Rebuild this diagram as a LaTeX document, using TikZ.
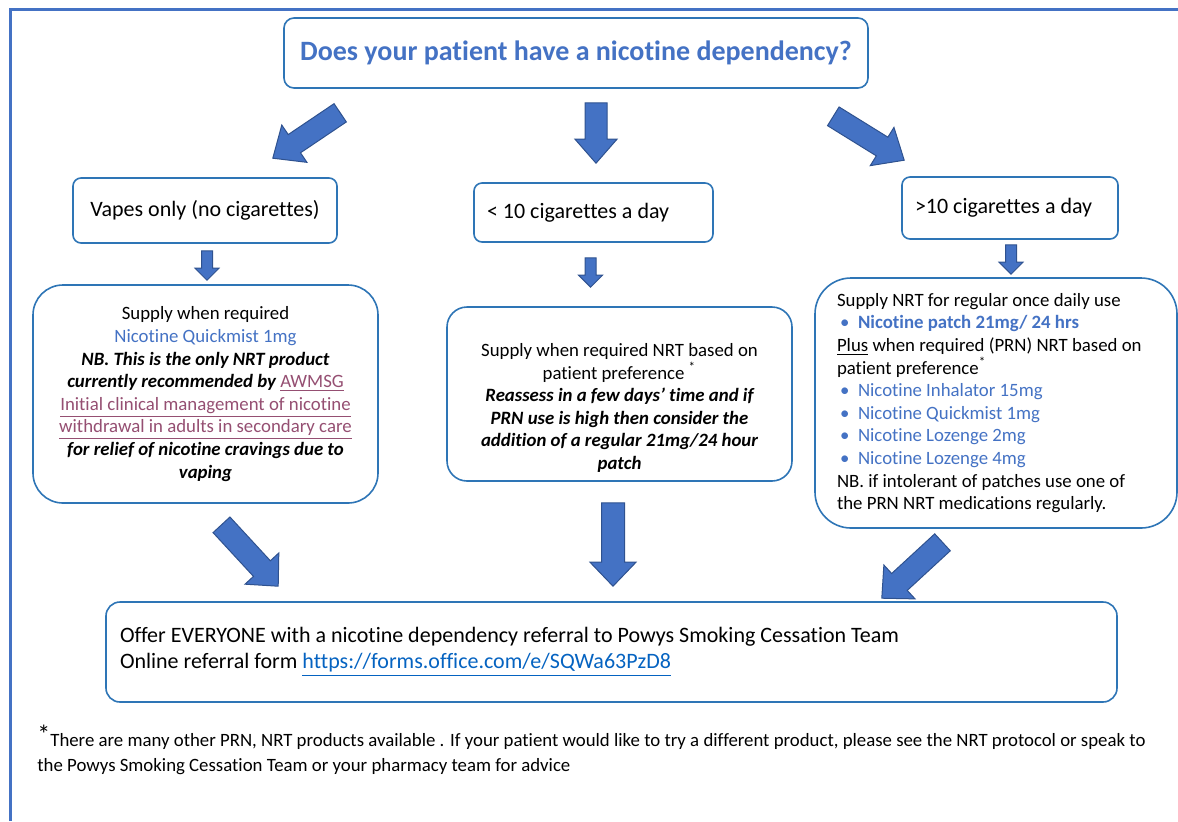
\documentclass[tikz,border=0pt]{standalone}
\usepackage{fontspec}
\setmainfont{Carlito}[Ligatures={TeX,NoCommon}]
\usepackage{tikz}
\usetikzlibrary{calc}
\definecolor{B}{RGB}{68, 114, 196}
\definecolor{L}{RGB}{46, 117, 182}
\definecolor{D}{RGB}{47, 82, 143}
\definecolor{P}{RGB}{149, 79, 114}
\definecolor{U}{RGB}{5, 99, 193}

%Flecha gruesa: inicio, punta, medio ancho, medio ancho cabeza, largo cabeza
\newcommand{\fatarrow}[5]{%
	\coordinate (hb) at ($(#2)!#5!(#1)$);
	\filldraw[arrowfill] ($(#1)!#3!90:(#2)$) -- ($(hb)!#3!90:(#2)$) -- ($(hb)!#4!90:(#2)$) -- (#2)
		-- ($(hb)!#4!-90:(#2)$) -- ($(hb)!#3!-90:(#2)$) -- ($(#1)!#3!-90:(#2)$) -- cycle;
}
\newcommand{\bul}[1]{\textcolor{B}{\hspace*{1.5pt}\makebox[9pt][l]{•}#1}}
\newcommand{\bodyfont}{\fontsize{9.4}{11.3}\selectfont}

\tikzset{
	box/.style={draw=L, line width=0.8pt, rounded corners=4pt, fill=white},
	bigbox/.style={draw=L, line width=0.8pt, fill=white, font=\bodyfont},
	arrowfill/.style={fill=B, draw=D, line width=0.5pt},
}

\begin{document}
\begin{tikzpicture}[x=0.5pt, y=-0.5pt]
	\useasboundingbox (0,0) rectangle (1178,821);
	\draw[B, line width=1.5pt] (10,821) -- (10,9) -- (1178,9);

	%Pregunta
	\node[box, rounded corners=5pt, minimum width=292pt, minimum height=35pt, text=B,
		font=\fontsize{14}{16}\selectfont\bfseries] (question) at (576,53)
		{Does your patient have a nicotine dependency?};

	%Tres casos
	\node[box, minimum width=132pt, minimum height=32.5pt, font=\fontsize{11}{13}\selectfont] (vapes) at (205,210.5)
		{Vapes only (no cigarettes)};
	\node[box, minimum height=29.5pt, inner xsep=6.5pt, text width=106.5pt, align=flush left,
		font=\fontsize{11}{13}\selectfont] (fewcig) at (593.5,212.5) {< 10 cigarettes a day};
	\node[box, minimum height=31pt, inner xsep=6.5pt, text width=95pt, align=flush left,
		font=\fontsize{11}{13}\selectfont] (manycig) at (1010,208) {>10 cigarettes a day};

	%Caja izquierda
	\node[bigbox, rounded corners=15pt, minimum width=172.5pt, minimum height=109pt, align=center] (vapesupply) at (205.5,394)
		{Supply when required\\
		\textcolor{B}{Nicotine Quickmist 1mg}\\
		{\bfseries\itshape NB. This is the only NRT product}\\
		{\bfseries\itshape currently recommended by} \textcolor{P}{\underline{AWMSG}}\\
		\textcolor{P}{\underline{Initial clinical management of nicotine}}\\
		\textcolor{P}{\underline{withdrawal in adults in secondary care}}\\
		{\bfseries\itshape for relief of nicotine cravings due to}\\
		{\bfseries\itshape vaping}};

	%Caja del medio
	\node[bigbox, rounded corners=10pt, minimum width=172.5pt, minimum height=87pt] (fewsupply) at (619.5,394) {};
	\node[font=\bodyfont, align=center] (fewtext) at (619.5,408)
		{Supply when required NRT based on\\
		patient preference \textsuperscript{*}\\
		{\bfseries\itshape Reassess in a few days’ time and if}\\
		{\bfseries\itshape PRN use is high then consider the}\\
		{\bfseries\itshape addition of a regular 21mg/24 hour}\\
		{\bfseries\itshape patch}};

	%Caja derecha
	\node[bigbox, rounded corners=18pt, minimum height=125pt, inner xsep=11pt, text width=159pt, align=flush left] (manysupply) at (996,403)
		{Supply NRT for regular once daily use\\
		\bul{\textbf{Nicotine patch 21mg/ 24 hrs}}\\
		\underline{Plus} when required (PRN) NRT based on\\
		patient preference\textsuperscript{*}\\
		\bul{Nicotine Inhalator 15mg}\\
		\bul{Nicotine Quickmist 1mg}\\
		\bul{Nicotine Lozenge 2mg}\\
		\bul{Nicotine Lozenge 4mg}\\
		NB. if intolerant of patches use one of\\
		the PRN NRT medications regularly.};

	%Caja de abajo
	\node[box, rounded corners=7pt, minimum height=50pt, inner xsep=7pt, text width=491.5pt, align=flush left,
		font=\fontsize{11}{13}\selectfont] (referral) at (611.5,652)
		{Offer EVERYONE with a nicotine dependency referral to Powys Smoking Cessation Team\\
		Online referral form \textcolor{U}{\underline{https://forms.office.com/e/SQWa63PzD8}}};

	%Nota
	\node[anchor=west, align=flush left, inner sep=0pt, font=\fontsize{9.4}{12.5}\selectfont] (note) at (37,750)
		{\raisebox{1.5pt}{\fontsize{13}{13}\selectfont *}There are many other PRN, NRT products available . If your patient would like to try a different product, please see the NRT protocol or speak to\\
		the Powys Smoking Cessation Team or your pharmacy team for advice};

	%Puntas y colas de las flechas
	\coordinate (qa) at ($(question.south west)+(57,24)$);
	\coordinate (qb) at ($(question.south)+(20,14)$);
	\coordinate (qc) at ($(question.south east)+(-35.5,27.5)$);
	\coordinate (va) at ($(vapes.north east)+(-65,-19)$);
	\coordinate (fa) at ($(fewcig.north)+(2.5,-19)$);
	\coordinate (ma) at ($(manycig.north west)+(3,-16)$);
	\fatarrow{qa}{va}{5.5pt}{11.25pt}{13pt}
	\fatarrow{qb}{fa}{5.5pt}{10.5pt}{12pt}
	\fatarrow{qc}{ma}{5.5pt}{11.25pt}{13pt}

	\coordinate (vb) at ($(vapes.south)+(2,7)$);
	\coordinate (vc) at ($(vapesupply.north)+(1.5,-4)$);
	\coordinate (fb) at ($(fewcig.south)+(-3,15)$);
	\coordinate (fc) at ($(fewsupply.north)+(-29,-19)$);
	\coordinate (mb) at ($(manycig.south)+(1,5)$);
	\coordinate (mc) at ($(manysupply.north)+(15,-3)$);
	\fatarrow{vb}{vc}{2.75pt}{6pt}{6pt}
	\fatarrow{fb}{fc}{2.75pt}{6pt}{6pt}
	\fatarrow{mb}{mc}{2.75pt}{6pt}{6pt}

	\coordinate (vd) at ($(vapesupply.south)+(16,21)$);
	\coordinate (fd) at ($(fewsupply.south)+(-6.5,21)$);
	\coordinate (md) at ($(manysupply.south)+(-53.5,13.5)$);
	\coordinate (ra) at ($(referral.north west)+(173,-15)$);
	\coordinate (rb) at ($(referral.north)+(1.5,-15)$);
	\coordinate (rc) at ($(referral.north east)+(-236,-3)$);
	\fatarrow{vd}{ra}{5.75pt}{11.5pt}{12pt}
	\fatarrow{fd}{rb}{5.75pt}{11.5pt}{12pt}
	\fatarrow{md}{rc}{5.75pt}{11.5pt}{12pt}
\end{tikzpicture}
\end{document}
